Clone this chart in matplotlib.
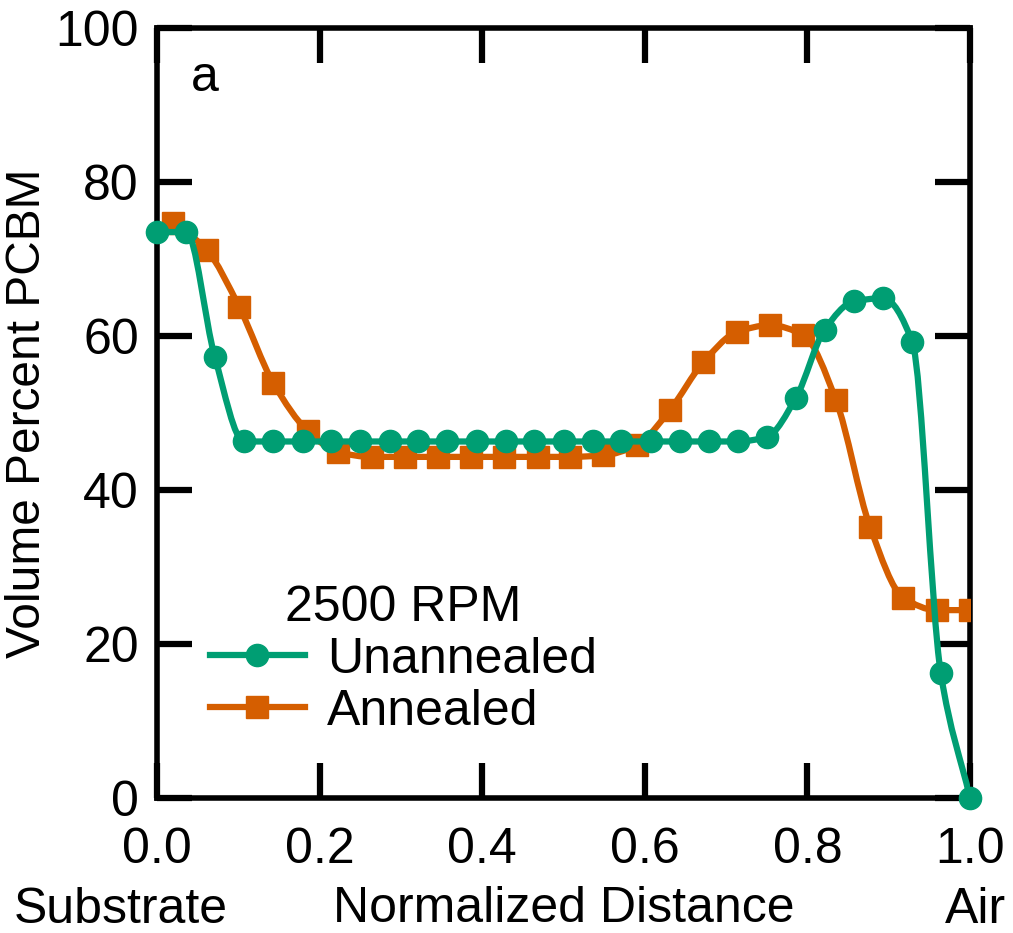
import numpy as np
import matplotlib
matplotlib.use("Agg")
import matplotlib.pyplot as plt
from matplotlib.path import Path
from matplotlib.patches import PathPatch
from matplotlib.lines import Line2D

plt.rcParams['font.family'] = ['Liberation Sans', 'DejaVu Sans']

# unannealed film (circles)
x_unann = [0.0, 0.036, 0.071, 0.107, 0.143, 0.179, 0.214, 0.25, 0.286, 0.321,
           0.357, 0.393, 0.429, 0.464, 0.5, 0.536, 0.571, 0.607, 0.643, 0.679,
           0.714, 0.75, 0.786, 0.821, 0.857, 0.893, 0.929, 0.964, 1.0]
y_unann = [73.5, 73.5, 57.3, 46.3, 46.3, 46.3, 46.3, 46.3, 46.3, 46.3,
           46.3, 46.3, 46.3, 46.3, 46.3, 46.3, 46.3, 46.3, 46.3, 46.3,
           46.3, 46.9, 52.0, 60.8, 64.5, 64.9, 59.2, 16.2, 0.0]

# annealed film (squares)
x_ann = [0.02, 0.061, 0.101, 0.143, 0.186, 0.223, 0.264, 0.305, 0.346, 0.386,
         0.427, 0.468, 0.508, 0.549, 0.59, 0.631, 0.672, 0.713, 0.754, 0.795,
         0.835, 0.877, 0.918, 0.959, 1.0]
y_ann = [74.7, 71.2, 63.8, 53.9, 47.6, 44.9, 44.3, 44.3, 44.3, 44.3,
         44.3, 44.3, 44.3, 44.5, 45.8, 50.4, 56.6, 60.5, 61.4, 60.1,
         51.7, 35.2, 26.0, 24.4, 24.4]

green = '#009E73'
orange = '#D55E00'


def smooth_path(x, y):
    # monotone cubic bezier segments through the points
    x = np.asarray(x, float)
    y = np.asarray(y, float)
    h = np.diff(x)
    d = np.diff(y) / h
    m = np.zeros_like(y)
    m[0] = d[0]
    m[-1] = d[-1]
    for k in range(1, len(x) - 1):
        if d[k - 1] * d[k] <= 0:
            m[k] = 0.0
        else:
            w1 = 2 * h[k] + h[k - 1]
            w2 = h[k] + 2 * h[k - 1]
            m[k] = (w1 + w2) / (w1 / d[k - 1] + w2 / d[k])
    verts = [(x[0], y[0])]
    codes = [Path.MOVETO]
    for k in range(len(x) - 1):
        verts += [(x[k] + h[k] / 3, y[k] + m[k] * h[k] / 3),
                  (x[k + 1] - h[k] / 3, y[k + 1] - m[k + 1] * h[k] / 3),
                  (x[k + 1], y[k + 1])]
        codes += [Path.CURVE4] * 3
    return Path(verts, codes)


fig = plt.figure(figsize=(10.13, 9.33), dpi=100)
ax = fig.add_axes([0.155, 0.1447, 0.8026, 0.8253])

fs = 36
lw = 4.5
ms = 16

ax.add_patch(PathPatch(smooth_path(x_ann, y_ann), fill=False, edgecolor=orange, lw=lw, zorder=2))
ax.plot(x_ann, y_ann, 's', color=orange, ms=ms, zorder=3)
ax.add_patch(PathPatch(smooth_path(x_unann, y_unann), fill=False, edgecolor=green, lw=lw, zorder=4))
ax.plot(x_unann, y_unann, 'o', color=green, ms=ms, zorder=5, clip_on=False)

ax.set_xlim(0, 1)
ax.set_ylim(0, 100)
ax.set_xticks([0.0, 0.2, 0.4, 0.6, 0.8, 1.0])
ax.set_xticklabels(['0.0', '0.2', '0.4', '0.6', '0.8', '1.0'])
ax.set_yticks([0, 20, 40, 60, 80, 100])

for s in ax.spines.values():
    s.set_linewidth(4)
ax.tick_params(direction='in', length=25, width=4.5, labelsize=fs,
               top=True, right=True)
ax.tick_params(axis='x', pad=21)
ax.tick_params(axis='y', pad=13)

ax.set_ylabel('Volume Percent PCBM', fontsize=34.5, labelpad=4)
ax.set_xlabel('Normalized Distance', fontsize=fs, labelpad=9)
ax.text(-0.045, -0.162, 'Substrate', transform=ax.transAxes, fontsize=fs,
        ha='center', va='baseline')
ax.text(1.007, -0.162, 'Air', transform=ax.transAxes, fontsize=fs,
        ha='center', va='baseline')
ax.text(0.059, 93.5, 'a', fontsize=fs, ha='center', va='center')

handles = [Line2D([], [], color=green, lw=lw, marker='o', ms=ms),
           Line2D([], [], color=orange, lw=lw, marker='s', ms=ms)]
leg = ax.legend(handles, ['Unannealed', 'Annealed'], title='2500 RPM',
                fontsize=fs, title_fontsize=fs, frameon=False,
                loc='lower left', bbox_to_anchor=(0.065, 0.082),
                borderpad=0, borderaxespad=0, handlelength=1.9,
                handletextpad=0.45, labelspacing=0.12)

fig.savefig('out.png', dpi=100)
